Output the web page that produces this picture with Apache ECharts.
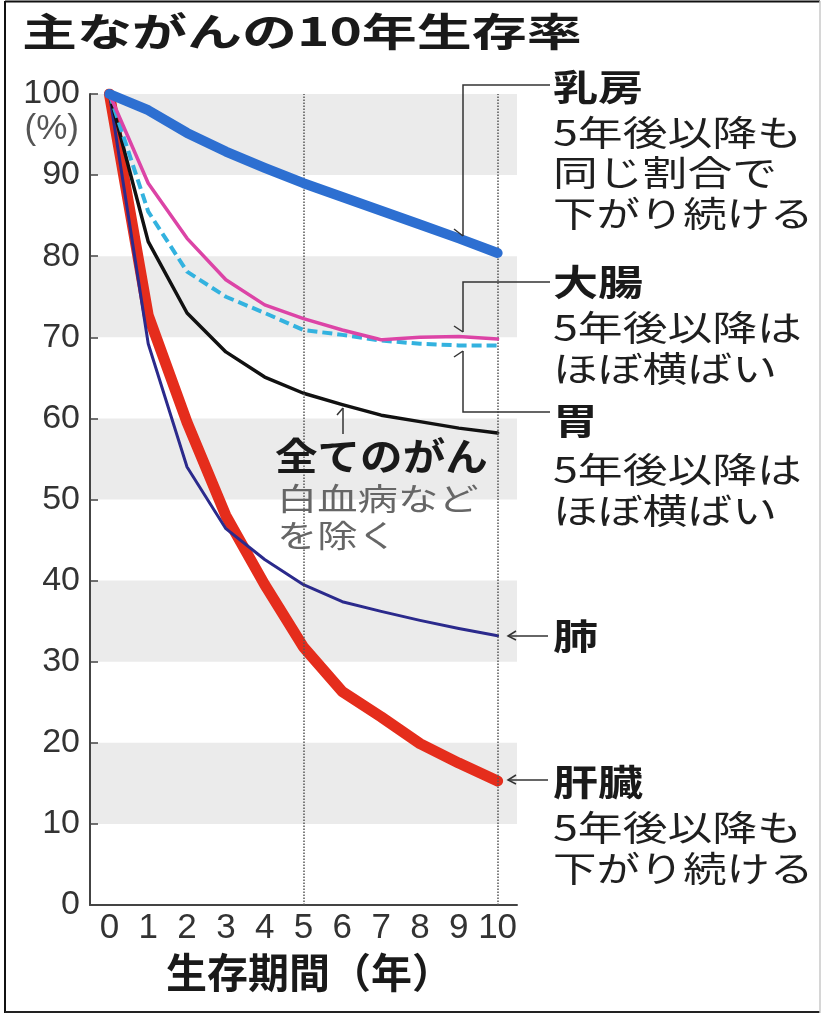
<!DOCTYPE html>
<html><head><meta charset="utf-8">
<script src="https://cdn.jsdelivr.net/npm/echarts@6/dist/echarts.min.js"></script>
<style>html,body{margin:0;padding:0;background:#fff}#c{width:823px;height:1018px}</style>
</head><body><div id="c"></div>
<script>
// ---- data ----
const years = ['0','1','2','3','4','5','6','7','8','9','10'];
const breast  = [100, 98.0, 95.2, 92.9, 90.9, 89.0, 87.3, 85.6, 83.9, 82.2, 80.4];
const colon   = [100, 89.0, 82.2, 77.1, 74.0, 72.3, 70.9, 69.7, 70.0, 70.1, 69.8];
const stomach = [100, 85.5, 78.1, 75.0, 73.0, 70.9, 70.3, 69.6, 69.2, 69.0, 69.0];
const allCancer = [100, 81.8, 73.0, 68.2, 65.1, 63.1, 61.7, 60.4, 59.6, 58.8, 58.2];
const lung    = [100, 69.2, 54.0, 46.4, 42.6, 39.5, 37.4, 36.2, 35.1, 34.1, 33.2];
const liver   = [100, 72.7, 59.5, 48.0, 39.5, 31.8, 26.3, 23.2, 19.9, 17.5, 15.3];
const guideYears = ['5', '10'];
const titleText = '主ながんの10年生存率';
const xName = '生存期間（年）';
const yUnit = '(%)';

const JP = '"Noto Sans CJK JP", "Noto Sans CJK SC", sans-serif';
const LAT = '"Liberation Sans", Arial, sans-serif';

function txt(x, y, s, size, weight, sx, fill, family) {
  return {type:'text', x:x, y:y, scaleX:sx, z:20,
    style:{text:s, fontSize:size, fontWeight:weight, fontFamily:family||JP,
      fill:fill||'#1f1f1f', align:'left', verticalAlign:'middle'}};
}
function pl(points) {
  return {type:'polyline', z:20, shape:{points:points},
    style:{stroke:'#333', lineWidth:1.5, fill:null}};
}

const graphics = [
  // frame
  {type:'line', z:30, shape:{x1:5,y1:1.5,x2:820,y2:1.5}, style:{stroke:'#111', lineWidth:2}},
  {type:'line', z:30, shape:{x1:5,y1:1,x2:5,y2:1013}, style:{stroke:'#111', lineWidth:2}},
  {type:'line', z:30, shape:{x1:5,y1:1012,x2:820,y2:1012}, style:{stroke:'#222', lineWidth:2}},
  {type:'line', z:30, shape:{x1:820,y1:1,x2:820,y2:1013}, style:{stroke:'#c8c8c8', lineWidth:1.5}},
  // title
  txt(22, 31, titleText, 39, 'bold', 1.41, '#1a1a1a'),
  // unit
  {type:'text', x:79, y:129, z:20, style:{text:yUnit, fontSize:35, fontFamily:LAT, fill:'#555', align:'right', verticalAlign:'middle'}},
  // breast
  pl([[550,85],[463,85],[463,236]]), pl([[454,229],[463,236]]),
  txt(553, 87, '乳房', 36, 'bold', 1.25, '#1a1a1a'),
  txt(553, 133, '5年後以降も', 35, 'normal', 1.28),
  txt(553, 173, '同じ割合で', 35, 'normal', 1.28),
  txt(553, 214, '下がり続ける', 35, 'normal', 1.24),
  // colon
  pl([[550,282],[463,282],[463,332]]), pl([[454,326],[463,332]]),
  txt(553, 282, '大腸', 36, 'bold', 1.25, '#1a1a1a'),
  txt(553, 328, '5年後以降は', 35, 'normal', 1.28),
  txt(553, 369, 'ほぼ横ばい', 35, 'normal', 1.28),
  // stomach
  pl([[550,412],[463,412],[463,351]]), pl([[454,357],[463,351]]),
  txt(553, 421, '胃', 36, 'bold', 1.25, '#1a1a1a'),
  txt(553, 470, '5年後以降は', 35, 'normal', 1.28),
  txt(553, 511, 'ほぼ横ばい', 35, 'normal', 1.28),
  // lung
  pl([[548,636],[508,636]]), pl([[516,631],[508,636],[516,640]]),
  txt(553, 636, '肺', 36, 'bold', 1.25, '#1a1a1a'),
  // liver
  pl([[548,780],[508,780]]), pl([[516,775],[508,780],[516,784]]),
  txt(553, 782, '肝臓', 36, 'bold', 1.25, '#1a1a1a'),
  txt(553, 828, '5年後以降も', 35, 'normal', 1.28),
  txt(553, 869, '下がり続ける', 35, 'normal', 1.24),
  // all cancers
  pl([[343,408],[343,434]]), pl([[337,415],[343,408]]),
  txt(275, 456, '全てのがん', 38, 'bold', 1.12, '#1a1a1a'),
  txt(277, 498, '白血病など', 31, 'normal', 1.3, '#666'),
  txt(277, 535, 'を除く', 31, 'normal', 1.3, '#666')
];

function lineSeries(name, data, color, width, z, extra) {
  return Object.assign({
    type:'line', name:name, data:data, symbol:'none', showSymbol:false, z:z,
    smooth:false, animation:false,
    lineStyle:{color:color, width:width, cap:'round', join:'round'}
  }, extra || {});
}

const chart = echarts.init(document.getElementById('c'));
chart.setOption({
  animation:false,
  backgroundColor:'#fff',
  grid:{left:90, right:306, top:94, bottom:113, containLabel:false},
  xAxis:{
    type:'category', data:years, boundaryGap:true,
    axisLine:{lineStyle:{color:'#444', width:2}},
    axisTick:{alignWithLabel:true, inside:true, length:19, lineStyle:{color:'#444', width:1.5}},
    axisLabel:{fontSize:35, fontFamily:LAT, color:'#333', margin:6, interval:0},
    splitLine:{show:false},
    name:xName, nameLocation:'middle', nameGap:47,
    nameTextStyle:{fontSize:41, fontWeight:'bold', fontFamily:JP, color:'#1a1a1a', padding:[0,0,0,12]}
  },
  yAxis:{
    type:'value', min:0, max:100, interval:10,
    axisLine:{show:true, lineStyle:{color:'#444', width:2}},
    axisTick:{show:true, inside:true, length:8, lineStyle:{color:'#444', width:1.5}},
    axisLabel:{fontSize:34, fontFamily:LAT, color:'#333', margin:10},
    splitLine:{show:false},
    splitArea:{show:true, areaStyle:{color:['rgba(255,255,255,0)', '#ebebeb']}}
  },
  series:[
    lineSeries('肝臓', liver, '#e52d1c', 11, 2, {
      markLine:{silent:true, symbol:'none', label:{show:false},
        lineStyle:{color:'#555', type:'dotted', width:1.5},
        data: guideYears.map(function(y){ return {xAxis:y}; })}
    }),
    lineSeries('肺', lung, '#2b2a8c', 3, 3),
    lineSeries('全てのがん', allCancer, '#111111', 3.5, 4),
    lineSeries('胃', stomach, '#33b2df', 4, 5, {lineStyle:{color:'#33b2df', width:4, type:[10,5], cap:'butt', join:'round'}}),
    lineSeries('大腸', colon, '#dc44a6', 3.5, 6),
    lineSeries('乳房', breast, '#2d6fd1', 10, 7)
  ],
  graphic: graphics
});
</script>
</body></html>
